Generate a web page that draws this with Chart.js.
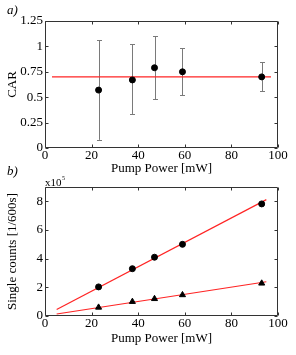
<!DOCTYPE html>
<html><head><meta charset="utf-8">
<script src="https://cdn.jsdelivr.net/npm/chart.js@4"></script>
<style>
html,body{margin:0;padding:0;background:#fff;}
#wrap{position:relative;width:296px;height:355px;overflow:hidden;}
.box{position:absolute;left:0;width:296px;}
</style></head><body>
<div id="wrap">
<div class="box" style="top:0;height:176px"><canvas id="cA"></canvas></div>
<div class="box" style="top:160px;height:195px"><canvas id="cB"></canvas></div>
</div>
<script>
// ---- data ----
const xTicks = [0, 20, 40, 60, 80, 100];
const carTicks = [0, 0.25, 0.5, 0.75, 1, 1.25];
const countTicks = [0, 2, 4, 6, 8];
const power = [23, 37.5, 47, 59, 93];
const car = [0.57, 0.67, 0.79, 0.75, 0.70];
const carLow = [0.08, 0.335, 0.48, 0.52, 0.56];
const carHigh = [1.06, 1.02, 1.10, 0.98, 0.845];
const carFitX = [3, 97];
const carFitY = [0.70, 0.70];
const singlesA = [2.03, 3.3, 4.1, 5.0, 7.82];   // x10^5
const singlesB = [0.6, 1.0, 1.2, 1.47, 2.28];   // x10^5
const fitX = [5, 95];
const fitAY = [0.45, 8.12];
const fitBY = [0.14, 2.39];

const SERIF = '"Liberation Serif", "DejaVu Serif", serif';
const RED = '#ff2424';

function pts(xs, ys) { return xs.map((x, i) => ({ x: x, y: ys[i] })); }

const framePlugin = {
  id: 'frame',
  afterDatasetsDraw(chart, args, opts) {
    const { ctx, chartArea: a, scales } = chart;
    ctx.save();
    ctx.strokeStyle = '#333';
    ctx.lineWidth = 1;
    ctx.beginPath();
    const L = Math.round(a.left) + 0.5, R = Math.round(a.right) - 0.5;
    const T = Math.round(a.top) + 0.5, B = Math.round(a.bottom) - 0.5;
    ctx.rect(L, T, R - L, B - T);
    const tl = 3;
    opts.xt.forEach(v => {
      const px = Math.round(scales.x.getPixelForValue(v)) + 0.5;
      ctx.moveTo(px, B); ctx.lineTo(px, B - tl);
      ctx.moveTo(px, T); ctx.lineTo(px, T + tl);
    });
    opts.yt.forEach(v => {
      const py = Math.round(scales.y.getPixelForValue(v)) + 0.5;
      ctx.moveTo(L, py); ctx.lineTo(L + tl, py);
      ctx.moveTo(R, py); ctx.lineTo(R - tl, py);
    });
    ctx.stroke();
    ctx.fillStyle = '#000';
    ctx.font = 'italic 13px ' + SERIF;
    ctx.textBaseline = 'alphabetic';
    ctx.fillText(opts.label, 7, opts.labelY);
    if (opts.exp) {
      ctx.font = '11px ' + SERIF;
      ctx.fillText('x10', 45, opts.expY);
      const w = ctx.measureText('x10').width;
      ctx.font = '6px ' + SERIF;
      ctx.fillText('5', 45 + w + 0.5, opts.expY - 6);
    }
    ctx.restore();
  }
};

const errPlugin = {
  id: 'errbars',
  beforeDatasetsDraw(chart, args, opts) {
    if (!opts.x) return;
    const { ctx, scales } = chart;
    ctx.save();
    ctx.strokeStyle = '#7a7a7a';
    ctx.lineWidth = 1;
    ctx.beginPath();
    opts.x.forEach((x, i) => {
      const px = Math.round(scales.x.getPixelForValue(x)) + 0.5;
      const y1 = scales.y.getPixelForValue(opts.lo[i]);
      const y2 = scales.y.getPixelForValue(opts.hi[i]);
      ctx.moveTo(px, y1); ctx.lineTo(px, y2);
      ctx.moveTo(px - 2.5, Math.round(y1) + 0.5); ctx.lineTo(px + 2.5, Math.round(y1) + 0.5);
      ctx.moveTo(px - 2.5, Math.round(y2) + 0.5); ctx.lineTo(px + 2.5, Math.round(y2) + 0.5);
    });
    ctx.stroke();
    ctx.restore();
  }
};

function xScale(h) {
  return {
    type: 'linear', min: 0, max: 100,
    afterBuildTicks: s => { s.ticks = xTicks.map(v => ({ value: v })); },
    afterFit: s => { s.height = h; },
    grid: { display: false, drawTicks: false },
    border: { display: false },
    ticks: { font: { family: SERIF, size: 13 }, color: '#000', padding: 0, maxRotation: 0, autoSkip: false },
    title: { display: true, text: 'Pump Power [mW]', font: { family: SERIF, size: 13 }, color: '#000', padding: { top: 0, bottom: 0 } }
  };
}
function yScale(min, max, ticksArr, title) {
  return {
    type: 'linear', min: min, max: max,
    afterBuildTicks: s => { s.ticks = ticksArr.map(v => ({ value: v })); },
    afterFit: s => { s.width = 45; },
    grid: { display: false, drawTicks: false },
    border: { display: false },
    ticks: { font: { family: SERIF, size: 13 }, color: '#000', padding: 2, autoSkip: false, callback: v => String(v) },
    title: { display: true, text: title, font: { family: SERIF, size: 13 }, color: '#000', padding: { top: 5, bottom: 0 } }
  };
}

new Chart(document.getElementById('cA'), {
  type: 'scatter',
  data: {
    datasets: [
      { data: pts(carFitX, carFitY), showLine: true, borderColor: RED, borderWidth: 1.2, pointRadius: 0, order: 2 },
      { data: pts(power, car), backgroundColor: '#000', borderColor: '#000', pointRadius: 3, borderWidth: 1, order: 1 }
    ]
  },
  options: {
    responsive: true, maintainAspectRatio: false, animation: false,
    layout: { padding: { top: 21, right: 18, left: 0, bottom: 0 } },
    scales: { x: xScale(28), y: yScale(0, 1.25, carTicks, 'CAR') },
    plugins: {
      legend: { display: false }, tooltip: { enabled: false },
      errbars: { x: power, lo: carLow, hi: carHigh },
      frame: { xt: xTicks, yt: carTicks, label: 'a)', labelY: 14 }
    }
  },
  plugins: [errPlugin, framePlugin]
});

new Chart(document.getElementById('cB'), {
  type: 'scatter',
  data: {
    datasets: [
      { data: pts(fitX, fitAY), showLine: true, borderColor: RED, borderWidth: 1.2, pointRadius: 0, order: 3 },
      { data: pts(fitX, fitBY), showLine: true, borderColor: RED, borderWidth: 1.2, pointRadius: 0, order: 3 },
      { data: pts(power, singlesA), backgroundColor: '#000', borderColor: '#000', pointRadius: 3, borderWidth: 1, order: 1 },
      { data: pts(power, singlesB), pointStyle: 'triangle', backgroundColor: '#000', borderColor: '#000', pointRadius: 3.5, borderWidth: 1, order: 1 }
    ]
  },
  options: {
    responsive: true, maintainAspectRatio: false, animation: false,
    layout: { padding: { top: 27, right: 18, left: 0, bottom: 9 } },
    scales: { x: xScale(30), y: yScale(0, 9, countTicks, 'Single counts [1/600s]') },
    plugins: {
      legend: { display: false }, tooltip: { enabled: false },
      errbars: {},
      frame: { xt: xTicks, yt: countTicks, label: 'b)', labelY: 15, exp: true, expY: 26 }
    }
  },
  plugins: [errPlugin, framePlugin]
});
</script>
</body></html>
